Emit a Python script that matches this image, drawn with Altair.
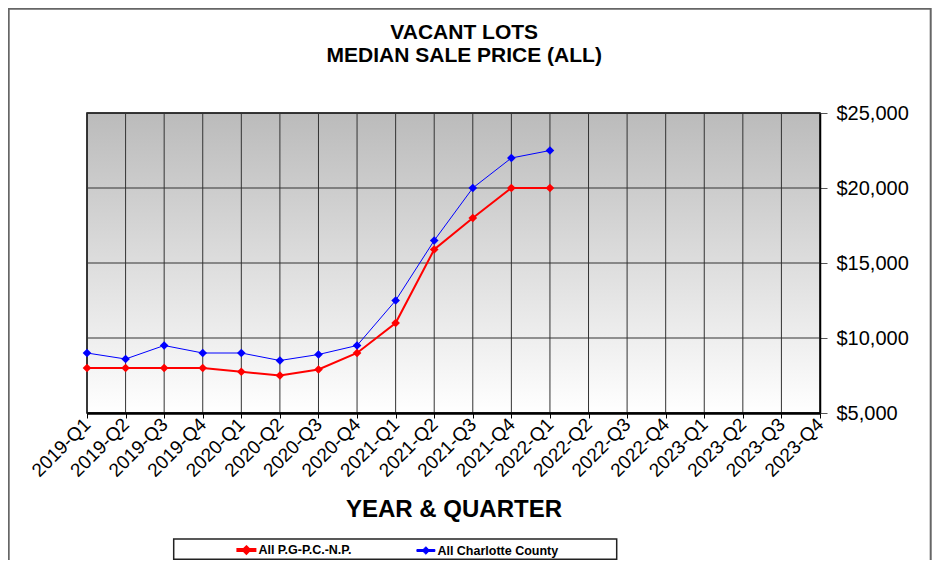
import altair as alt
import pandas as pd

QUARTERS = [
    "2019-Q1", "2019-Q2", "2019-Q3", "2019-Q4",
    "2020-Q1", "2020-Q2", "2020-Q3", "2020-Q4",
    "2021-Q1", "2021-Q2", "2021-Q3", "2021-Q4",
    "2022-Q1", "2022-Q2", "2022-Q3", "2022-Q4",
    "2023-Q1", "2023-Q2", "2023-Q3", "2023-Q4",
]
SERIES_NAMES = ["All P.G-P.C.-N.P.", "All Charlotte County"]
PGPC = [8000, 8000, 8000, 8000, 7750, 7500, 7900, 9000, 11000, 15900, 18000, 20000, 20000]
CHARLOTTE = [9000, 8600, 9500, 9000, 9000, 8500, 8900, 9500, 12500, 16500, 20000, 22000, 22500]
Y_TICKS = [5000, 10000, 15000, 20000, 25000]
TITLE_LINES = ["VACANT LOTS", "MEDIAN SALE PRICE (ALL)"]
X_TITLE = "YEAR & QUARTER"
COLORS = ["#ff0000", "#0000ff"]
WIDTHS = [2, 1]

rows = []
for name, vals in zip(SERIES_NAMES, [PGPC, CHARLOTTE]):
    for q, v in zip(QUARTERS, vals):
        rows.append({"quarter": q, "price": v, "series": name})
df = pd.DataFrame(rows)

W, H = 733, 300
FONT = "Liberation Sans"

x_scale = alt.Scale(domain=QUARTERS, type="point", padding=0)
y_scale = alt.Scale(domain=[5000, 25000], nice=False, zero=False)
color_scale = alt.Scale(domain=SERIES_NAMES, range=COLORS)

x_axis = alt.Axis(
    labelAngle=-45, labelAlign="right", labelBaseline="middle",
    labelFontSize=19, labelFont=FONT, labelColor="black", labelOverlap=False,
    labelPadding=3, tickColor="black", tickSize=5, domainColor="black",
    domainWidth=2.5, grid=False, title=X_TITLE, titleFontSize=24,
    titleFont=FONT, titleFontWeight="bold", titleColor="black", titleY=84,
    titleBaseline="top", zindex=1,
)
y_axis = alt.Axis(
    orient="right", values=Y_TICKS, format="$,.0f", labelFontSize=20,
    labelFont=FONT, labelColor="black", tickColor="#555555", tickSize=7,
    labelPadding=9, domainColor="black", domainWidth=1.5, grid=False,
    title=None, zindex=1,
)

one = alt.Data(values=[{}])

frame = alt.Chart(one).mark_rect(fill="transparent", stroke="#666666", strokeWidth=2).encode(
    x=alt.value(-78.3), x2=alt.value(843.7), y=alt.value(-104.3), y2=alt.value(470)
)

title = alt.Chart(one).mark_text(
    text="\n".join(TITLE_LINES), lineBreak="\n", lineHeight=23.6,
    font=FONT, fontSize=21, fontWeight="bold", color="black",
    align="center", baseline="alphabetic",
).encode(x=alt.value(377.2), y=alt.value(-74.3))

bg = alt.Chart(one).mark_rect(
    fill=alt.LinearGradient(
        gradient="linear", x1=0, x2=0, y1=0, y2=1,
        stops=[alt.GradientStop(offset=0, color="#bbbbbb"),
               alt.GradientStop(offset=1, color="#ffffff")],
    ),
    stroke="black", strokeWidth=1.5,
).encode(x=alt.value(0), x2=alt.value(W), y=alt.value(0), y2=alt.value(H))

vgrid = alt.Chart(pd.DataFrame({"quarter": QUARTERS})).mark_rule(
    color="#333333", strokeWidth=1
).encode(x=alt.X("quarter:N", scale=x_scale, axis=x_axis))

hgrid = alt.Chart(pd.DataFrame({"price": Y_TICKS})).mark_rule(
    color="#333333", strokeWidth=1
).encode(y=alt.Y("price:Q", scale=y_scale, axis=y_axis))

box = alt.Chart(one).mark_rect(fill="white", stroke="#222222", strokeWidth=1.5).encode(
    x=alt.value(86.7), x2=alt.value(529.7), y=alt.value(426), y2=alt.value(446.3)
)

SYMBOL = "M-1,-0.11L1,-0.11L1,0.11L-1,0.11Z M0,-0.42L0.42,0L0,0.42L-0.42,0Z"
legend = alt.Legend(
    title=None, orient="none", legendX=149.4, legendY=427,
    direction="horizontal", symbolType=SYMBOL, symbolSize=324,
    symbolStrokeWidth=0, symbolOpacity=1,
    labelFont=FONT, labelFontWeight="bold", labelFontSize=12.5,
    labelColor="black", labelOffset=2, columnPadding=62, padding=0,
)

lines = alt.Chart(df).mark_line().encode(
    x=alt.X("quarter:N", scale=x_scale, axis=x_axis),
    y=alt.Y("price:Q", scale=y_scale, axis=y_axis),
    color=alt.Color("series:N", scale=color_scale, legend=legend),
    strokeWidth=alt.StrokeWidth("series:N", scale=alt.Scale(domain=SERIES_NAMES, range=WIDTHS), legend=None),
)

points = alt.Chart(df).mark_point(shape="diamond", filled=True, size=75, opacity=1).encode(
    x=alt.X("quarter:N", scale=x_scale, axis=x_axis),
    y=alt.Y("price:Q", scale=y_scale, axis=y_axis),
    color=alt.Color("series:N", scale=color_scale, legend=legend),
)

chart = alt.layer(frame, title, bg, vgrid, hgrid, box, lines, points).properties(
    width=W, height=H,
    padding={"left": 79, "top": 105, "right": 112, "bottom": 147},
    autosize=alt.AutoSizeParams(type="none"),
).configure_view(stroke=None)

chart.save("out.html", embed_options={"renderer": "svg", "actions": False})
